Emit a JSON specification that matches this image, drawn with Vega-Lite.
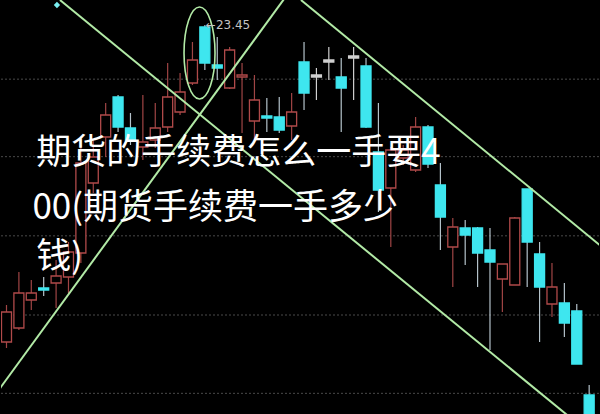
{
  "$schema": "https://vega.github.io/schema/vega-lite/v6.json",
  "width": 600,
  "height": 414,
  "autosize": {"type": "fit", "contains": "padding"},
  "padding": 0,
  "background": "#000000",
  "config": {"view": {"stroke": null}},
  "datasets": {
    "candles": [
      {"i": 0, "o": 19.646, "h": 20.09, "l": 19.574, "c": 20.006, "d": "up"},
      {"i": 1, "o": 19.814, "h": 20.486, "l": 19.79, "c": 20.234, "d": "up"},
      {"i": 2, "o": 20.15, "h": 20.39, "l": 20.03, "c": 20.234, "d": "up"},
      {"i": 3, "o": 20.294, "h": 20.426, "l": 20.198, "c": 20.27, "d": "down"},
      {"i": 4, "o": 20.354, "h": 20.63, "l": 20.054, "c": 20.438, "d": "up"},
      {"i": 5, "o": 20.426, "h": 20.846, "l": 20.234, "c": 20.726, "d": "up"},
      {"i": 6, "o": 20.714, "h": 22.01, "l": 20.594, "c": 21.794, "d": "up"},
      {"i": 7, "o": 21.554, "h": 22.07, "l": 21.434, "c": 21.866, "d": "up"},
      {"i": 8, "o": 22.106, "h": 22.514, "l": 21.866, "c": 22.37, "d": "up"},
      {"i": 9, "o": 22.586, "h": 22.61, "l": 22.166, "c": 22.226, "d": "down"},
      {"i": 10, "o": 22.214, "h": 22.394, "l": 22.01, "c": 22.07, "d": "down"},
      {"i": 11, "o": 21.986, "h": 22.61, "l": 21.83, "c": 22.046, "d": "up"},
      {"i": 12, "o": 22.07, "h": 22.514, "l": 21.974, "c": 22.214, "d": "up"},
      {"i": 13, "o": 22.226, "h": 22.994, "l": 22.166, "c": 22.586, "d": "up"},
      {"i": 14, "o": 22.406, "h": 22.874, "l": 22.37, "c": 22.646, "d": "up"},
      {"i": 15, "o": 22.754, "h": 23.246, "l": 22.73, "c": 23.03, "d": "up"},
      {"i": 16, "o": 23.426, "h": 23.45, "l": 22.91, "c": 22.994, "d": "down"},
      {"i": 17, "o": 22.97, "h": 23.306, "l": 22.79, "c": 22.934, "d": "down"},
      {"i": 18, "o": 22.694, "h": 23.186, "l": 22.682, "c": 23.15, "d": "up"},
      {"i": 19, "o": 22.826, "h": 22.994, "l": 22.154, "c": 22.85, "d": "up"},
      {"i": 20, "o": 22.298, "h": 22.85, "l": 22.07, "c": 22.55, "d": "up"},
      {"i": 21, "o": 22.358, "h": 22.574, "l": 22.166, "c": 22.334, "d": "down"},
      {"i": 22, "o": 22.346, "h": 22.586, "l": 22.154, "c": 22.19, "d": "down"},
      {"i": 23, "o": 22.238, "h": 22.634, "l": 22.07, "c": 22.406, "d": "up"},
      {"i": 24, "o": 23.006, "h": 23.246, "l": 22.43, "c": 22.634, "d": "down"},
      {"i": 25, "o": 22.85, "h": 22.934, "l": 22.55, "c": 22.826, "d": "flat"},
      {"i": 26, "o": 23.03, "h": 23.186, "l": 22.79, "c": 23.006, "d": "flat"},
      {"i": 27, "o": 22.826, "h": 23.054, "l": 22.166, "c": 22.694, "d": "down"},
      {"i": 28, "o": 23.078, "h": 23.186, "l": 22.55, "c": 23.054, "d": "flat"},
      {"i": 29, "o": 22.958, "h": 23.054, "l": 22.214, "c": 22.226, "d": "down"},
      {"i": 30, "o": 21.926, "h": 22.514, "l": 21.206, "c": 21.47, "d": "down"},
      {"i": 31, "o": 21.494, "h": 21.986, "l": 20.786, "c": 21.95, "d": "up"},
      {"i": 32, "o": 21.854, "h": 22.01, "l": 21.77, "c": 21.95, "d": "up"},
      {"i": 33, "o": 21.71, "h": 22.346, "l": 21.686, "c": 22.226, "d": "up"},
      {"i": 34, "o": 22.226, "h": 22.25, "l": 21.734, "c": 21.782, "d": "down"},
      {"i": 35, "o": 21.53, "h": 21.794, "l": 20.75, "c": 21.146, "d": "down"},
      {"i": 36, "o": 20.786, "h": 21.134, "l": 20.306, "c": 21.026, "d": "up"},
      {"i": 37, "o": 21.014, "h": 21.11, "l": 20.57, "c": 20.93, "d": "down"},
      {"i": 38, "o": 21.014, "h": 21.026, "l": 20.306, "c": 20.714, "d": "down"},
      {"i": 39, "o": 20.75, "h": 21.014, "l": 19.55, "c": 20.606, "d": "down"},
      {"i": 40, "o": 20.402, "h": 20.582, "l": 20.006, "c": 20.582, "d": "up"},
      {"i": 41, "o": 20.33, "h": 21.146, "l": 20.33, "c": 21.134, "d": "up"},
      {"i": 42, "o": 21.482, "h": 21.482, "l": 20.306, "c": 20.846, "d": "down"},
      {"i": 43, "o": 20.702, "h": 20.846, "l": 19.646, "c": 20.306, "d": "down"},
      {"i": 44, "o": 20.102, "h": 20.594, "l": 19.946, "c": 20.306, "d": "up"},
      {"i": 45, "o": 20.114, "h": 20.354, "l": 19.706, "c": 19.874, "d": "down"},
      {"i": 46, "o": 20.018, "h": 20.102, "l": 19.382, "c": 19.382, "d": "down"},
      {"i": 47, "o": 19.01, "h": 19.13, "l": 18.47, "c": 18.59, "d": "down"}
    ],
    "grid": [{"p": 22.8}, {"p": 21.87}, {"p": 20.92}, {"p": 19.97}, {"p": 19.03}],
    "trend": [
      {"g": "a", "x": 4.31, "p": 23.75},
      {"g": "a", "x": 48.97, "p": 18.314},
      {"g": "b", "x": -0.83, "p": 19.029},
      {"g": "b", "x": 23.68, "p": 24.025},
      {"g": "c", "x": 23.75, "p": 23.75},
      {"g": "c", "x": 48.97, "p": 20.673}
    ],
    "ring": [{"x": 15.57, "p": 23.114}],
    "marker": [{"x": 4.07, "p": 23.69}],
    "peak": [{"x": 16, "p": 23.45, "t": "←23.45"}],
    "title": [
      {"x": 2.41, "p": 21.914, "t": "期货的手续费怎么一手要4"},
      {"x": 2.09, "p": 21.254, "t": "00(期货手续费一手多少"},
      {"x": 2.41, "p": 20.666, "t": "钱)"}
    ]
  },
  "layer": [
    {
      "data": {"name": "grid"},
      "mark": {"type": "rule", "color": "#4a4a4a", "strokeWidth": 1, "strokeDash": [2, 2]},
      "encoding": {
        "y": {"field": "p", "type": "quantitative", "scale": {"domain": [18.782, 23.75], "nice": false, "zero": false}, "axis": null}
      }
    },
    {
      "data": {"name": "candles"},
      "mark": {"type": "rule", "strokeWidth": 1.2, "clip": true},
      "encoding": {
        "x": {"field": "i", "type": "quantitative", "scale": {"domain": [-0.04, 47.39], "nice": false, "zero": false}, "axis": null},
        "y": {"field": "h", "type": "quantitative", "scale": {"domain": [18.782, 23.75], "nice": false, "zero": false}, "axis": null},
        "y2": {"field": "l"},
        "color": {"field": "d", "type": "nominal", "scale": {"domain": ["up", "down", "flat"], "range": ["#a04545", "#b4c2ca", "#d0d0d0"]}, "legend": null}
      }
    },
    {
      "data": {"name": "candles"},
      "mark": {"type": "bar", "width": 10, "strokeWidth": 1.3, "clip": true},
      "encoding": {
        "x": {"field": "i", "type": "quantitative", "axis": null},
        "y": {"field": "o", "type": "quantitative", "axis": null},
        "y2": {"field": "c"},
        "fill": {"field": "d", "type": "nominal", "scale": {"domain": ["up", "down", "flat"], "range": ["#000000", "#3ee6ef", "#d0d0d0"]}, "legend": null},
        "stroke": {"field": "d", "type": "nominal", "scale": {"domain": ["up", "down", "flat"], "range": ["#b04a4a", "#3ee6ef", "#d0d0d0"]}, "legend": null}
      }
    },
    {
      "data": {"name": "trend"},
      "mark": {"type": "line", "color": "#b2eaa6", "strokeWidth": 2, "clip": true},
      "encoding": {
        "x": {"field": "x", "type": "quantitative", "axis": null},
        "y": {"field": "p", "type": "quantitative", "axis": null},
        "detail": {"field": "g"}
      }
    },
    {
      "data": {"name": "ring"},
      "mark": {"type": "point", "filled": false, "stroke": "#b2eaa6", "strokeWidth": 1.6, "opacity": 1, "size": 8464, "shape": "M -0.337 0 A 0.337 1 0 1 0 0.337 0 A 0.337 1 0 1 0 -0.337 0 Z"},
      "encoding": {
        "x": {"field": "x", "type": "quantitative", "axis": null},
        "y": {"field": "p", "type": "quantitative", "axis": null}
      }
    },
    {
      "data": {"name": "marker"},
      "mark": {"type": "point", "filled": true, "shape": "diamond", "size": 40, "color": "#7aeef0", "opacity": 1},
      "encoding": {
        "x": {"field": "x", "type": "quantitative", "axis": null},
        "y": {"field": "p", "type": "quantitative", "axis": null}
      }
    },
    {
      "data": {"name": "peak"},
      "mark": {"type": "text", "align": "left", "baseline": "middle", "dx": 1, "font": "DejaVu Sans", "fontSize": 12, "color": "#c4c4c4"},
      "encoding": {
        "x": {"field": "x", "type": "quantitative", "axis": null},
        "y": {"field": "p", "type": "quantitative", "axis": null},
        "text": {"field": "t"}
      }
    },
    {
      "data": {"name": "title"},
      "mark": {"type": "text", "align": "left", "baseline": "middle", "font": "Noto Sans CJK SC", "fontSize": 35, "color": "#ffffff"},
      "encoding": {
        "x": {"field": "x", "type": "quantitative", "axis": null},
        "y": {"field": "p", "type": "quantitative", "axis": null},
        "text": {"field": "t"}
      }
    }
  ]
}
